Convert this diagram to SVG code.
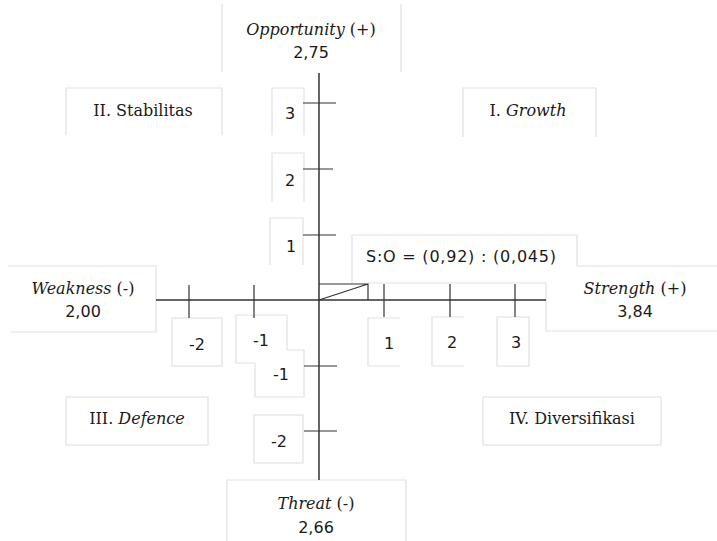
<svg xmlns="http://www.w3.org/2000/svg" width="717" height="541" viewBox="0 0 717 541">
<style>
.bx{fill:none;stroke:#e2e2e2;stroke-width:1.2}
.ax{stroke:#333;stroke-width:1.5;fill:none}
.tk{stroke:#333;stroke-width:1.2;fill:none}
.lab{font-family:"DejaVu Serif","Liberation Serif",serif;font-size:16px;fill:#1a1a1a;text-anchor:middle}
.num{font-family:"DejaVu Sans","Liberation Sans",sans-serif;font-size:16px;fill:#1a1a1a;text-anchor:middle}
.it{font-style:italic}
</style>
<rect width="717" height="541" fill="#fff"/>
<g id="opportunity"><path class="bx" d="M222,4V72M401,4V72"/><text class="lab" x="311" y="35"><tspan class="it">Opportunity</tspan> (+)</text><text class="num" x="311" y="58">2,75</text></g>
<g id="stabilitas"><path class="bx" d="M66,135V88H222V135"/><text class="lab" x="143" y="116">II. Stabilitas</text></g>
<g id="growth"><path class="bx" d="M463,137V88H596V137"/><text class="lab" x="528" y="116">I. <tspan class="it">Growth</tspan></text></g>
<g id="tick-y3"><path class="bx" d="M272,135V88H304V135"/><text class="num" x="290" y="119">3</text></g>
<g id="tick-y2"><path class="bx" d="M272,202V153H304V202"/><text class="num" x="290" y="186">2</text></g>
<g id="tick-y1"><path class="bx" d="M270,265V218H303V265"/><text class="num" x="291" y="252">1</text></g>
<g id="ratio"><path class="bx" d="M352,283V235H577V266M368,283H546"/><text class="num" x="461" y="262" textLength="190" lengthAdjust="spacing">S:O = (0,92) : (0,045)</text></g>
<g id="strength"><path class="bx" d="M577,266H717M546,283V331H717"/><text class="lab" x="635" y="294"><tspan class="it">Strength</tspan> (+)</text><text class="num" x="635" y="317">3,84</text></g>
<g id="weakness"><path class="bx" d="M8,266H156V332H10"/><text class="lab" x="83" y="294"><tspan class="it">Weakness</tspan> (-)</text><text class="num" x="83" y="317">2,00</text></g>
<g id="tick-x-2"><rect class="bx" x="172" y="318" width="50" height="48"/><text class="num" x="197" y="350">-2</text></g>
<g id="tick-x-1"><path class="bx" d="M255,363H236V315H287V350"/><text class="num" x="261" y="346">-1</text></g>
<g id="tick-y-1"><path class="bx" d="M255,363V397H304V350H287"/><text class="num" x="281" y="380">-1</text></g>
<g id="tick-y-2"><rect class="bx" x="254" y="415" width="49" height="48"/><text class="num" x="279" y="447">-2</text></g>
<g id="tick-x1"><path class="bx" d="M400,318H368V366H400"/><text class="num" x="389" y="349">1</text></g>
<g id="tick-x2"><path class="bx" d="M464,317H432V366H464"/><text class="num" x="452" y="348">2</text></g>
<g id="tick-x3"><rect class="bx" x="497" y="317" width="32" height="49"/><text class="num" x="516" y="348">3</text></g>
<g id="defence"><rect class="bx" x="66" y="397" width="142" height="48"/><text class="lab" x="137" y="424">III. <tspan class="it">Defence</tspan></text></g>
<g id="diversifikasi"><rect class="bx" x="483" y="397" width="178" height="48"/><text class="lab" x="572" y="424">IV. Diversifikasi</text></g>
<g id="threat"><path class="bx" d="M227,541V480H406V541"/><text class="lab" x="316" y="509"><tspan class="it">Threat</tspan> (-)</text><text class="num" x="316" y="533">2,66</text></g>
<g id="connectors">
<path class="ax" d="M319,73V480M156,300H546"/>
<path class="tk" d="M303,103H336M303,169H333M303,235H336M304,366H337M304,431H337M189,285V318M254,285V318M384,284V317M450,284V317M515,284V317"/>
<path class="tk" d="M319,284H368V300M319,300L368,284"/>
</g>
</svg>
